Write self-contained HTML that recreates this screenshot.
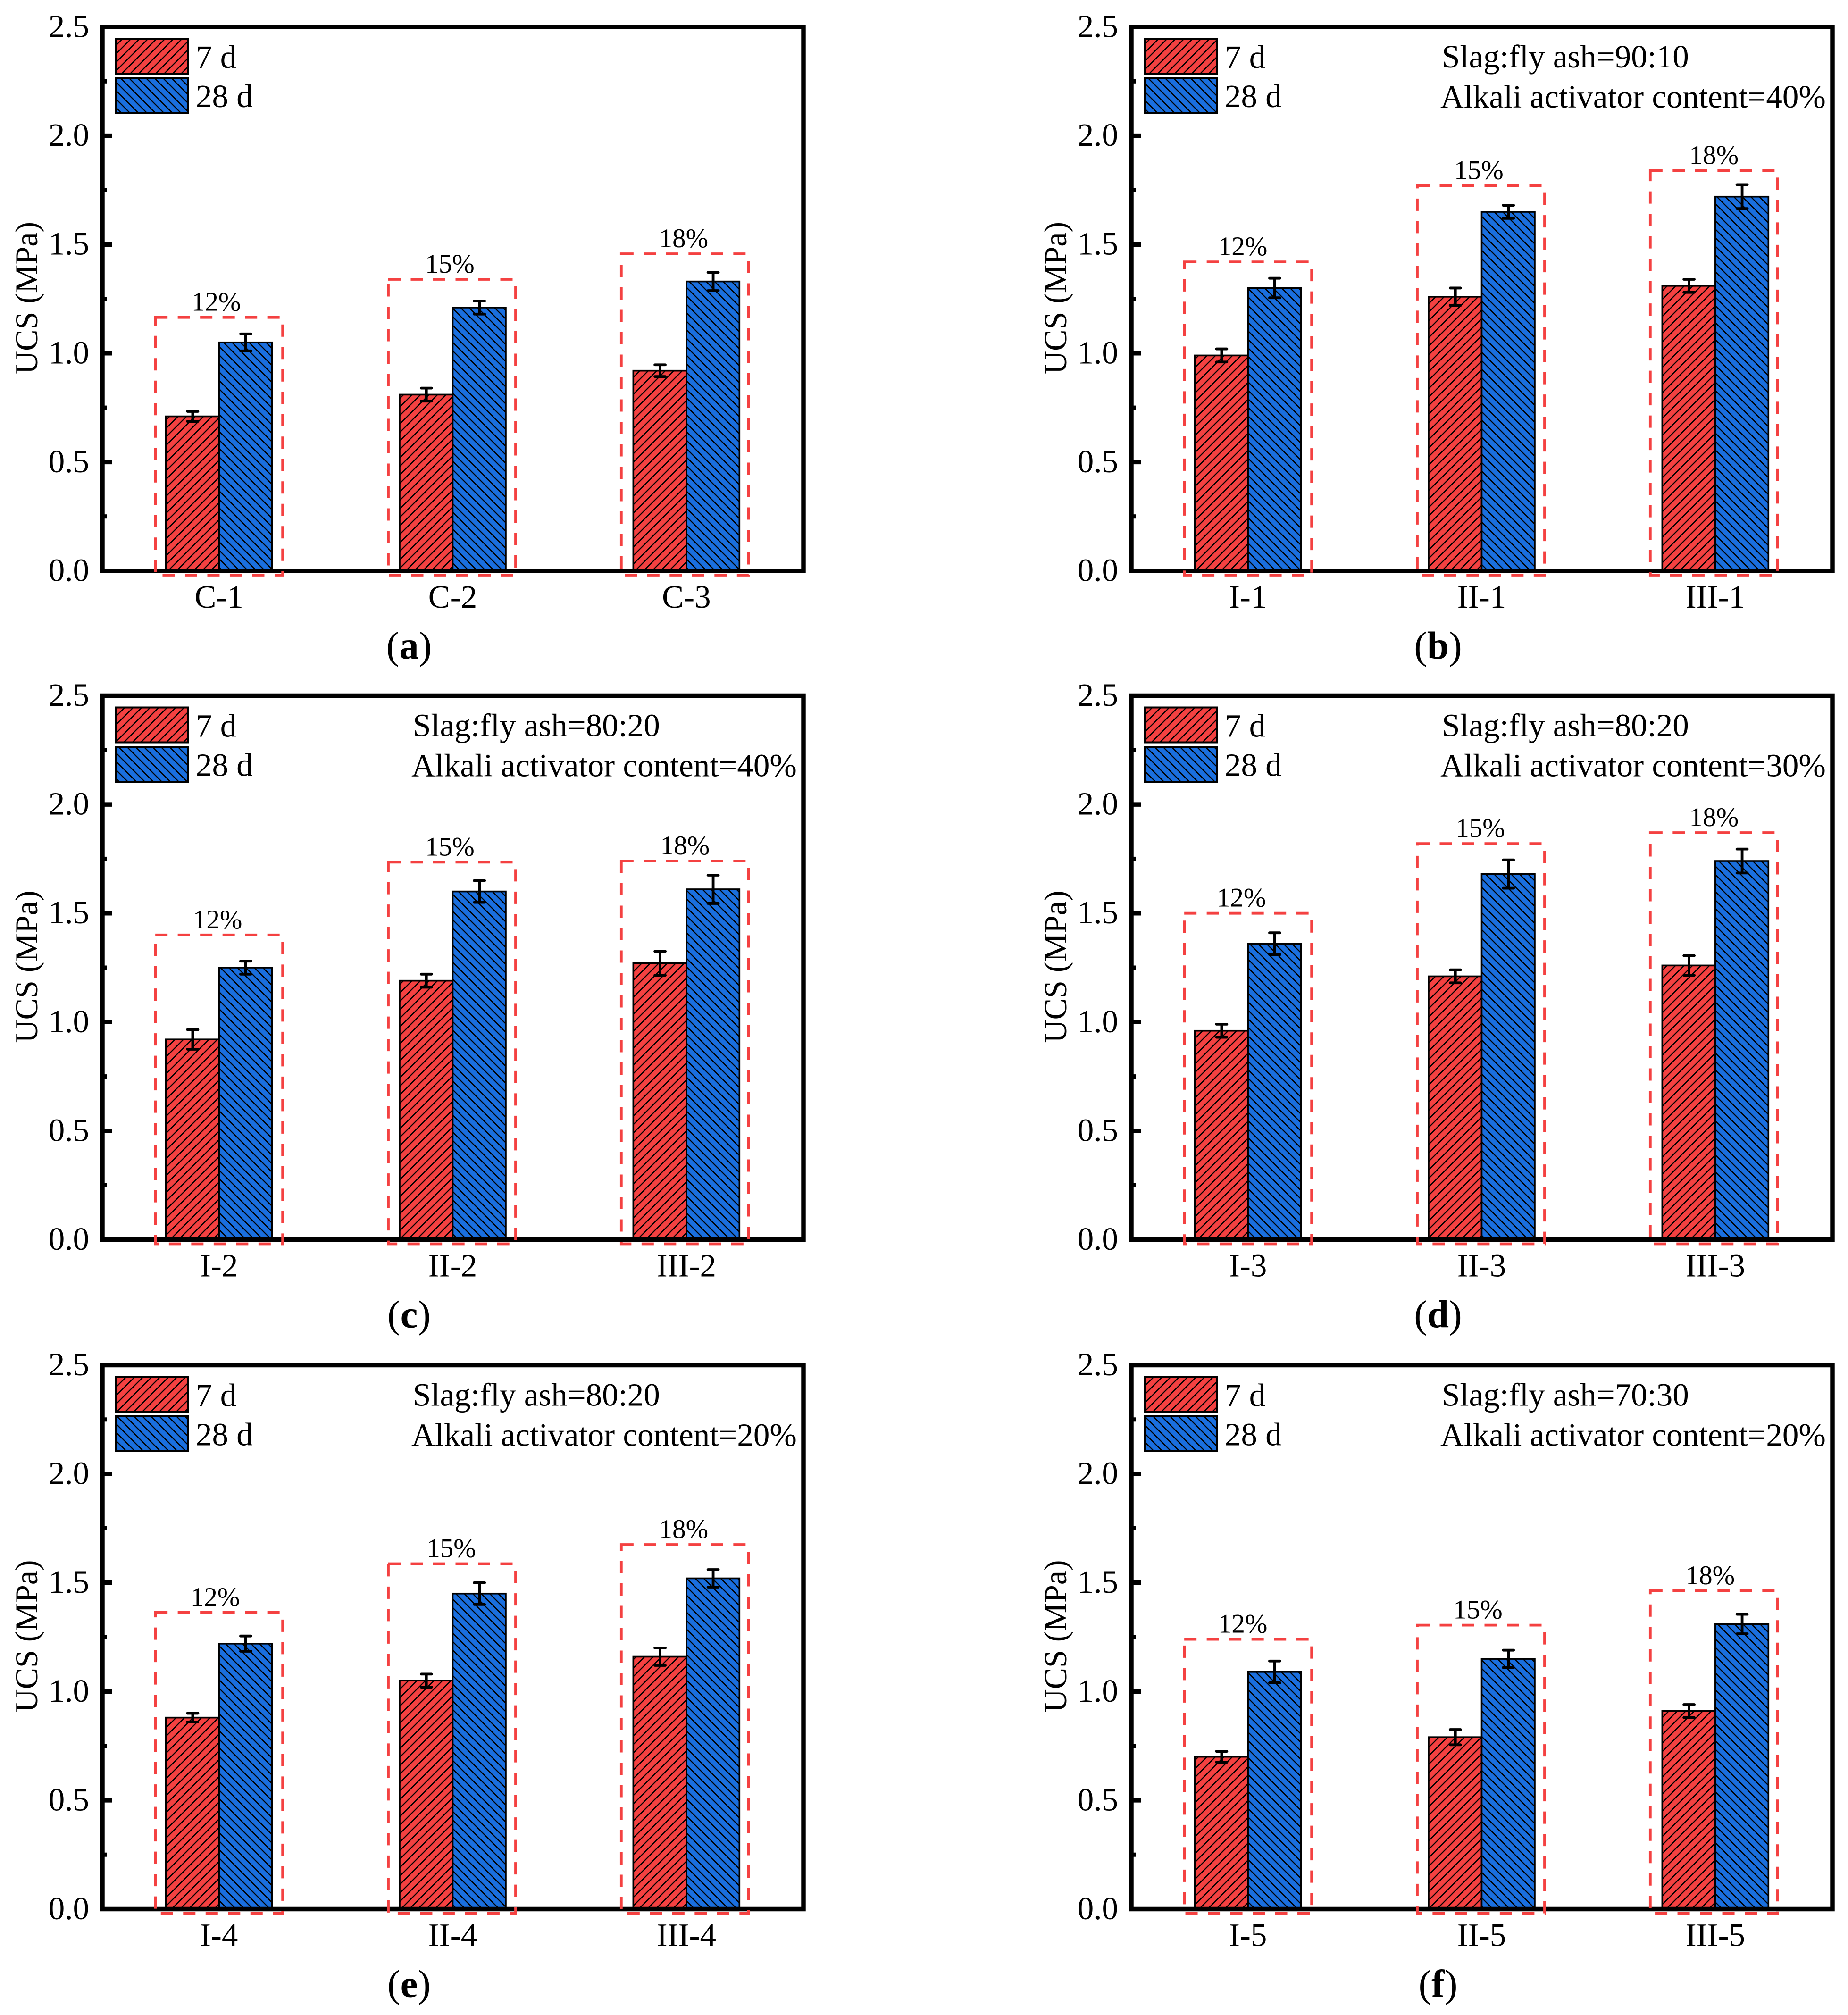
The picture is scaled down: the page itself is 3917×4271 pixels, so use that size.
<!DOCTYPE html>
<html lang="en">
<head>
<meta charset="utf-8">
<title>UCS of specimens at 7 d and 28 d</title>
<style>
html,body{margin:0;padding:0;background:#fff;}
svg{display:block;font-family:"Liberation Serif","Times New Roman",serif;}
</style>
</head>
<body>
<svg id="figure" xmlns="http://www.w3.org/2000/svg" width="3917" height="4271" viewBox="0 0 3917 4271">
  <defs>
    <pattern id="hatch-red" patternUnits="userSpaceOnUse" width="18" height="18">
      <rect width="18" height="18" fill="#F44141"/>
      <path d="M-4.5 4.5L4.5 -4.5M-4.5 22.5L22.5 -4.5M13.5 22.5L22.5 13.5" stroke="#000" stroke-width="2.4" fill="none"/>
    </pattern>
    <pattern id="hatch-blue" patternUnits="userSpaceOnUse" width="18" height="18">
      <rect width="18" height="18" fill="#1A6FDF"/>
      <path d="M13.5 -4.5L22.5 4.5M-4.5 -4.5L22.5 22.5M-4.5 13.5L4.5 22.5" stroke="#000" stroke-width="2.4" fill="none"/>
    </pattern>
  </defs>
</svg>
<script>
// ---- data ----
const yTickLabels = ['0.0', '0.5', '1.0', '1.5', '2.0', '2.5'];
const yTickValues = [0, 0.5, 1, 1.5, 2, 2.5];
const yMinorValues = [0.25, 0.75, 1.25, 1.75, 2.25];
const contentLabels = ['12%', '15%', '18%'];
const seriesNames = ['7 d', '28 d'];

const categoriesA = ['C-1', 'C-2', 'C-3'];
const strength7A = [0.71, 0.81, 0.92];
const strength28A = [1.05, 1.21, 1.33];
const error7A = [0.023, 0.03, 0.027];
const error28A = [0.039, 0.03, 0.042];
const boxTopA = [1.165, 1.34, 1.457];

const categoriesB = ['I-1', 'II-1', 'III-1'];
const strength7B = [0.99, 1.26, 1.31];
const strength28B = [1.30, 1.65, 1.72];
const error7B = [0.03, 0.04, 0.03];
const error28B = [0.045, 0.03, 0.055];
const boxTopB = [1.42, 1.77, 1.84];

const categoriesC = ['I-2', 'II-2', 'III-2'];
const strength7C = [0.92, 1.19, 1.27];
const strength28C = [1.25, 1.60, 1.61];
const error7C = [0.045, 0.03, 0.055];
const error28C = [0.03, 0.05, 0.065];
const boxTopC = [1.40, 1.735, 1.74];

const categoriesD = ['I-3', 'II-3', 'III-3'];
const strength7D = [0.96, 1.21, 1.26];
const strength28D = [1.36, 1.68, 1.74];
const error7D = [0.03, 0.03, 0.045];
const error28D = [0.05, 0.065, 0.055];
const boxTopD = [1.50, 1.82, 1.87];

const categoriesE = ['I-4', 'II-4', 'III-4'];
const strength7E = [0.88, 1.05, 1.16];
const strength28E = [1.22, 1.45, 1.52];
const error7E = [0.02, 0.03, 0.04];
const error28E = [0.035, 0.05, 0.04];
const boxTopE = [1.363, 1.587, 1.675];

const categoriesF = ['I-5', 'II-5', 'III-5'];
const strength7F = [0.70, 0.79, 0.91];
const strength28F = [1.09, 1.15, 1.31];
const error7F = [0.025, 0.035, 0.03];
const error28F = [0.05, 0.04, 0.045];
const boxTopF = [1.24, 1.305, 1.463];

const panels = [
  {id:'a', col:0, row:0, cats:categoriesA, v7:strength7A, v28:strength28A, e7:error7A, e28:error28A, box:boxTopA, notes:[], labelNudge:[-3,-3,-3]},
  {id:'b', col:1, row:0, cats:categoriesB, v7:strength7B, v28:strength28B, e7:error7B, e28:error28B, box:boxTopB, notes:['Slag:fly ash=90:10','Alkali activator content=40%'], labelNudge:[-8,-3,0]},
  {id:'c', col:0, row:1, cats:categoriesC, v7:strength7C, v28:strength28C, e7:error7C, e28:error28C, box:boxTopC, notes:['Slag:fly ash=80:20','Alkali activator content=40%'], labelNudge:[0,-3,0]},
  {id:'d', col:1, row:1, cats:categoriesD, v7:strength7D, v28:strength28D, e7:error7D, e28:error28D, box:boxTopD, notes:['Slag:fly ash=80:20','Alkali activator content=30%'], labelNudge:[-11,0,0]},
  {id:'e', col:0, row:2, cats:categoriesE, v7:strength7E, v28:strength28E, e7:error7E, e28:error28E, box:boxTopE, notes:['Slag:fly ash=80:20','Alkali activator content=20%'], labelNudge:[-5,0,-3]},
  {id:'f', col:1, row:2, cats:categoriesF, v7:strength7F, v28:strength28F, e7:error7F, e28:error28F, box:boxTopF, notes:['Slag:fly ash=70:30','Alkali activator content=20%'], labelNudge:[-8,-5,-8]}
];

// ---- drawing ----
const NS = 'http://www.w3.org/2000/svg';
const root = document.getElementById('figure');
const PLOT_W = 1486, PLOT_H = 1153, UNIT = PLOT_H / 2.5;
const COL_X = [217, 2398], ROW_Y = [57, 1474.5, 2893.5];
const BAR_W = 112.5, BOX_HALF = 135, RED = '#F44141', FRAME = 9.5;
const FONT = 69;
const BOX_SHIFT = [0, -1.5, -3];

function make(parent, tag, attrs, text) {
  const node = document.createElementNS(NS, tag);
  for (const k in attrs) node.setAttribute(k, attrs[k]);
  if (text !== undefined) node.textContent = text;
  parent.appendChild(node);
  return node;
}

panels.forEach(function (p) {
  const left = COL_X[p.col], top = ROW_Y[p.row], bottom = top + PLOT_H;
  const yScale = function (v) { return bottom - v * UNIT; };
  const xScale = function (i) { return left + (i + 0.5) * (PLOT_W / 3) - 0.5; };

  const g = make(root, 'g', {});
  
  

  // bars and error bars
  p.cats.forEach(function (cat, i) {
    const cx = xScale(i);
    [[p.v7, p.e7, 'hatch-red', '7d', -BAR_W], [p.v28, p.e28, 'hatch-blue', '28d', 0]].forEach(function (s) {
      const value = s[0][i], err = s[1][i];
      const bar = make(g, 'rect', {x: cx + s[4], y: yScale(value), width: BAR_W, height: value * UNIT, fill: 'url(#' + s[2] + ')', stroke: '#000', 'stroke-width': 3.6});
      
      
      const ex = cx + s[4] + BAR_W / 2 + 0.5;
      const d = 'M' + ex + ' ' + yScale(value + err) + 'V' + yScale(value - err) +
        'M' + (ex - 11) + ' ' + yScale(value + err) + 'H' + (ex + 11) +
        'M' + (ex - 11) + ' ' + yScale(value - err) + 'H' + (ex + 11);
      const eb = make(g, 'path', {d: d, fill: 'none', stroke: '#000', 'stroke-width': 5.8, 'stroke-linecap': 'round'});
      
      
    });
  });

  // frame
  const frame = make(g, 'rect', {x: left, y: top, width: PLOT_W, height: PLOT_H, fill: 'none', stroke: '#000', 'stroke-width': FRAME});
  
  

  // y ticks
  yTickValues.forEach(function (v, i) {
    if (v > 0 && v < 2.5) {
      const tk = make(g, 'line', {x1: left, x2: left + 21, y1: yScale(v), y2: yScale(v), stroke: '#000', 'stroke-width': 9.5});
      
      
    }
    const tl = make(g, 'text', {x: left - 28, y: yScale(v) + 21.5, 'text-anchor': 'end', 'font-size': FONT, fill: '#000'}, yTickLabels[i]);
    
    
  });
  yMinorValues.forEach(function (v) {
    const tk = make(g, 'line', {x1: left, x2: left + 10, y1: yScale(v), y2: yScale(v), stroke: '#000', 'stroke-width': 9});
    
    
  });

  // y axis title
  const yt = make(g, 'text', {transform: 'translate(' + (left - 138) + ' ' + (top + PLOT_H / 2 - 2) + ') rotate(-90)', 'text-anchor': 'middle', 'font-size': 68, fill: '#000'}, 'UCS (MPa)');
  
  

  // category labels
  p.cats.forEach(function (cat, i) {
    const t = make(g, 'text', {x: xScale(i), y: bottom + 78, 'text-anchor': 'middle', 'font-size': FONT, fill: '#000'}, cat);
    
    
  });

  // dashed boxes and content labels
  p.box.forEach(function (b, i) {
    const cx = xScale(i) + BOX_SHIFT[i];
    const yT = yScale(b), yB = bottom + 9;
    const d = 'M' + (cx - BOX_HALF) + ' ' + yT + 'H' + (cx + BOX_HALF) + 'V' + yB + 'H' + (cx - BOX_HALF) + 'Z';
    const bx = make(g, 'path', {d: d, fill: 'none', stroke: RED, 'stroke-width': 5.8, 'stroke-dasharray': '26 21.5'});
    
    
    const t = make(g, 'text', {x: xScale(i) - 3 + p.labelNudge[i], y: yT - 14, 'text-anchor': 'middle', 'font-size': 57, fill: '#000'}, contentLabels[i]);
    
    
  });

  // legend
  [['hatch-red', 25, 87], ['hatch-blue', 108.5, 170]].forEach(function (l, i) {
    const sw = make(g, 'rect', {x: left + 29, y: top + l[1], width: 152, height: 74, fill: 'url(#' + l[0] + ')', stroke: '#000', 'stroke-width': 4});
    
    
    const lt = make(g, 'text', {x: left + 198, y: top + l[2], 'font-size': FONT, fill: '#000'}, seriesNames[i]);
    
    
  });

  // annotation
  p.notes.forEach(function (n, i) {
    const t = make(g, 'text', {x: left + (i === 0 ? 658 : 655), y: top + (i === 0 ? 86 : 171), 'font-size': FONT, fill: '#000'}, n);
    
    
  });

  // caption
  const cap = make(g, 'text', {x: left + 650, y: bottom + 186, 'text-anchor': 'middle', 'font-size': 83, fill: '#000'});
  
  
  make(cap, 'tspan', {}, '(');
  make(cap, 'tspan', {'font-weight': 'bold'}, p.id);
  make(cap, 'tspan', {}, ')');
});
</script>
</body>
</html>
